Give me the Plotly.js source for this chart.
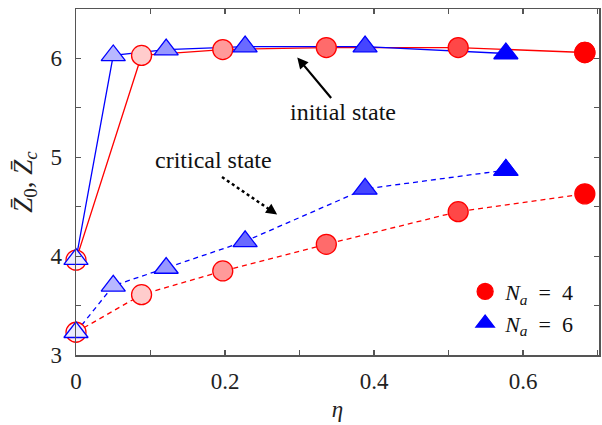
<!DOCTYPE html>
<html>
<head>
<meta charset="utf-8">
<script src="https://cdn.plot.ly/plotly-3.0.1.min.js"></script>
<style>html,body{margin:0;padding:0;background:#fff;}</style>
</head>
<body>
<div id="chart" style="width:602px;height:425px;"></div>
<script>
// ---- data ----
const etaA4 = [0, 0.088, 0.197, 0.336, 0.513, 0.683];
const initialA4 = [3.96, 6.03, 6.09, 6.11, 6.11, 6.06];
const criticalA4 = [3.23, 3.61, 3.85, 4.12, 4.45, 4.63];
const etaA6 = [0, 0.05, 0.121, 0.227, 0.388, 0.577];
const initialA6 = [3.97, 6.03, 6.09, 6.12, 6.12, 6.05];
const criticalA6 = [3.23, 3.70, 3.88, 4.15, 4.68, 4.87];
const legendNames = ['<i>N</i><sub><i>a</i></sub>\u2002=\u20024', '<i>N</i><sub><i>a</i></sub>\u2002=\u20026'];

// ---- styles ----
const RED = '#ff0000', BLUE = '#0000ff';
const redFills = ['#ffeef0', '#ffcccc', '#ff9a9a', '#ff6b6b', '#ff4747', '#ff0000'];
const blueFills = ['#ebebfd', '#b8b8ff', '#9898ff', '#6a6aff', '#4545ff', '#0000ff'];
const serif = '"Liberation Serif", "Times New Roman", Times, serif';

function lineTrace(x, y, color, dash) {
  return {x: x, y: y, type: 'scatter', mode: 'lines', showlegend: false,
    line: {color: color, width: 1.3, dash: dash}, cliponaxis: false, hoverinfo: 'skip'};
}
function markerTrace(x, y, fills, color, symbol, size) {
  return {x: x, y: y, type: 'scatter', mode: 'markers', showlegend: false, cliponaxis: false,
    marker: {symbol: symbol, size: size, color: fills, line: {color: color, width: 1.3}}};
}
const last = a => a.length - 1;

const traces = [
  lineTrace(etaA4, initialA4, RED, 'solid'),
  lineTrace(etaA4, criticalA4, RED, '5px,4px'),
  lineTrace(etaA6, initialA6, BLUE, 'solid'),
  lineTrace(etaA6, criticalA6, BLUE, '5px,4px'),
  markerTrace(etaA4, initialA4, redFills, RED, 'circle', 20),
  markerTrace(etaA4, criticalA4, redFills, RED, 'circle', 20),
  markerTrace(etaA6, initialA6, blueFills, BLUE, 'triangle-up', 21),
  markerTrace(etaA6, criticalA6, blueFills, BLUE, 'triangle-up', 21),
  {x: [etaA4[last(etaA4)]], y: [initialA4[last(initialA4)]], type: 'scatter', mode: 'markers',
    name: legendNames[0], cliponaxis: false,
    marker: {symbol: 'circle', size: 20, color: RED, line: {color: RED, width: 1.3}}},
  {x: [etaA6[last(etaA6)]], y: [criticalA6[last(criticalA6)]], type: 'scatter', mode: 'markers',
    name: legendNames[1], cliponaxis: false,
    marker: {symbol: 'triangle-up', size: 21, color: BLUE, line: {color: BLUE, width: 1.3}}}
];

const axisCommon = {
  showgrid: false, zeroline: false, showline: true, linecolor: '#555', linewidth: 1.5,
  mirror: 'ticks', ticks: 'inside', ticklen: 5, tickwidth: 1.2, tickcolor: '#555',
  tickfont: {family: serif, size: 23, color: '#222'}
};

const layout = {
  width: 602, height: 425,
  margin: {l: 76, r: 3, t: 9, b: 70},
  paper_bgcolor: '#fff', plot_bgcolor: '#fff',
  font: {family: serif, color: '#111'},
  xaxis: Object.assign({}, axisCommon, {
    range: [0, 0.702], tick0: 0, dtick: 0.2,
    minor: {dtick: 0.1, ticks: 'inside', ticklen: 5, tickwidth: 1.2, tickcolor: '#555'},
    ticklabelstandoff: 5,
    title: {text: '<i>η</i>', font: {family: serif, size: 23, color: '#222'}, standoff: 8}
  }),
  yaxis: Object.assign({}, axisCommon, {
    range: [3, 6.5], tick0: 3, dtick: 1,
    minor: {dtick: 0.5, ticks: 'inside', ticklen: 5, tickwidth: 1.2, tickcolor: '#555'},
    ticklabelstandoff: 8,
    title: {text: '<i>Z̄</i><sub>0</sub>, <i>Z̄</i><sub><i>c</i></sub>', font: {family: serif, size: 27, color: '#222'}, standoff: 10}
  }),
  showlegend: true,
  legend: {x: 0.962, xanchor: 'right', y: 0.03, yanchor: 'bottom', bgcolor: 'rgba(0,0,0,0)',
    font: {family: serif, size: 22, color: '#111'}, itemwidth: 30, tracegroupgap: 0},
  shapes: [
    {type: 'line', xref: 'x', yref: 'y', x0: 0.196, y0: 4.80, x1: 0.262, y1: 4.46,
     line: {color: '#000', width: 2.5, dash: 'dot'}}
  ],
  annotations: [
    {x: 0.297, y: 6.01, xref: 'x', yref: 'y', text: 'initial state', showarrow: true,
     ax: 46, ay: 55, arrowhead: 2, arrowsize: 1, arrowwidth: 2.2, arrowcolor: '#000', standoff: 0,
     font: {family: serif, size: 24, color: '#111'}},
    {x: 0.184, y: 4.97, xref: 'x', yref: 'y', text: 'critical state', showarrow: false,
     font: {family: serif, size: 24, color: '#111'}},
    {x: 0.27, y: 4.42, xref: 'x', yref: 'y', text: '', showarrow: true, ax: -10, ay: -7,
     arrowhead: 2, arrowsize: 1, arrowwidth: 2.2, arrowcolor: '#000'}
  ]
};

Plotly.newPlot('chart', traces, layout, {displayModeBar: false, staticPlot: true});
</script>
</body>
</html>
